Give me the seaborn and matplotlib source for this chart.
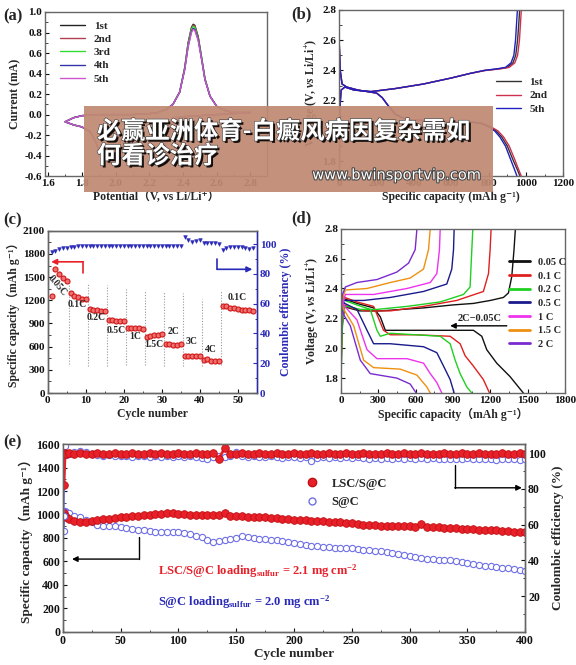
import numpy as np
import pandas as pd
import matplotlib.pyplot as plt
import matplotlib.patheffects as pe
from matplotlib.patches import Rectangle
from matplotlib.ticker import AutoMinorLocator, MultipleLocator
from matplotlib.lines import Line2D
import seaborn as sns

# ---------------- data ----------------
# (a) cyclic voltammetry, cathodic scan then anodic scan
cv_potential = [2.80, 2.70, 2.60, 2.50, 2.40, 2.36, 2.34, 2.32, 2.30, 2.28,
                2.26, 2.24, 2.20, 2.15, 2.10, 2.05, 2.02, 2.00, 1.98, 1.95,
                1.92, 1.90, 1.88, 1.85, 1.80, 1.75, 1.70,
                1.75, 1.80, 1.90, 2.00, 2.10, 2.20, 2.25, 2.30, 2.34, 2.38,
                2.41, 2.43, 2.45, 2.46, 2.47, 2.49, 2.51, 2.53, 2.56, 2.60,
                2.65, 2.70, 2.80]
cv_cathodic = [0.02, 0.01, 0.00, -0.01, -0.02, -0.03, -0.08, -0.18, -0.28, -0.30,
               -0.25, -0.18, -0.12, -0.10, -0.11, -0.18, -0.30, -0.42, -0.48, -0.46,
               -0.40, -0.35, -0.26, -0.17, -0.12, -0.10, -0.07]
cv_anodic = {
    '1st': [-0.03, -0.01, 0.00, 0.00, 0.00, 0.01, 0.02, 0.05, 0.10, 0.22, 0.46, 0.70,
            0.85, 0.88, 0.87, 0.76, 0.56, 0.35, 0.18, 0.08, 0.04, 0.02, 0.02],
    '2nd': [-0.03, -0.01, 0.00, 0.00, 0.00, 0.01, 0.02, 0.05, 0.10, 0.22, 0.45, 0.69,
            0.84, 0.87, 0.86, 0.75, 0.55, 0.35, 0.18, 0.08, 0.04, 0.02, 0.02],
    '3rd': [-0.03, -0.01, 0.00, 0.00, 0.00, 0.01, 0.02, 0.05, 0.10, 0.22, 0.45, 0.68,
            0.83, 0.86, 0.85, 0.74, 0.55, 0.35, 0.18, 0.08, 0.04, 0.02, 0.02],
    '4th': [-0.03, -0.01, 0.00, 0.00, 0.00, 0.01, 0.02, 0.05, 0.10, 0.22, 0.44, 0.66,
            0.81, 0.84, 0.83, 0.73, 0.54, 0.34, 0.18, 0.08, 0.04, 0.02, 0.02],
    '5th': [-0.03, -0.01, 0.00, 0.00, 0.00, 0.01, 0.02, 0.05, 0.10, 0.22, 0.44, 0.66,
            0.80, 0.83, 0.82, 0.72, 0.54, 0.34, 0.18, 0.08, 0.04, 0.02, 0.02],
}
cv_colors = {'1st': '#222222', '2nd': '#b04050', '3rd': '#33dd33',
             '4th': '#3333aa', '5th': '#cc55cc'}

# (b) charge / discharge profiles
b_dis_cap = {'1st': [0, 5, 15, 40, 100, 200, 230, 260, 300, 350, 400, 500, 600, 700, 760, 800, 840, 870, 900, 930, 955, 968],
             '2nd': [0, 5, 15, 40, 100, 200, 230, 260, 300, 350, 400, 500, 600, 700, 765, 808, 850, 880, 910, 940, 962, 975],
             '5th': [0, 5, 15, 40, 100, 200, 230, 260, 300, 350, 400, 500, 600, 700, 755, 795, 832, 860, 890, 918, 940, 952]}
b_dis_v = [2.58, 2.40, 2.31, 2.29, 2.27, 2.25, 2.22, 2.17, 2.11, 2.08, 2.07,
           2.07, 2.06, 2.06, 2.05, 2.03, 2.00, 1.96, 1.90, 1.81, 1.74, 1.70]
b_chg_cap = {'1st': [0, 3, 10, 30, 80, 170, 300, 450, 600, 700, 780, 850, 900, 930, 945, 955, 962, 966],
             '2nd': [0, 3, 10, 30, 80, 170, 300, 450, 600, 700, 785, 860, 910, 940, 955, 965, 971, 975],
             '5th': [0, 3, 10, 30, 80, 170, 300, 450, 600, 700, 775, 842, 890, 920, 935, 944, 950, 954]}
b_chg_v = [1.72, 2.15, 2.27, 2.29, 2.27, 2.26, 2.28, 2.31, 2.35, 2.38,
           2.40, 2.41, 2.42, 2.45, 2.50, 2.60, 2.72, 2.80]
b_colors = {'1st': '#333333', '2nd': '#d03050', '5th': '#2020c0'}

# (c) rate performance
c_cycles = list(range(1, 55))
c_capacity = [1260, 1600, 1540, 1495, 1450,
              1290, 1260, 1240, 1220, 1215,
              1090, 1080, 1070, 1065, 1060,
              950, 940, 935, 930, 930,
              840, 835, 840, 835, 830,
              730, 735, 745, 755, 770,
              640, 630, 625, 625, 630,
              480, 480, 478, 478, 480,
              430, 435, 420, 410, 410,
              1130, 1120, 1105, 1095, 1085, 1080, 1075, 1070, 1065]
c_ce = [94.5, 95.7, 96.5, 97.2, 97.6, 98.0, 98.4, 98.8, 99.0, 98.8,
        98.6, 99.0, 98.8, 98.6, 99.0, 98.8, 98.6, 99.0, 98.8, 98.6,
        99.0, 98.8, 98.6, 99.0, 98.8, 98.6, 99.0, 98.8, 98.6, 99.0,
        98.8, 98.6, 99.0, 98.8, 98.6, 105.0, 102.5, 101.5, 102.0, 103.0,
        100.5, 100.5, 100.8, 100.5, 100.3, 96.3, 97.5, 97.8, 98.2, 97.8,
        98.0, 97.2, 97.0, 97.2]
rate_labels = ['0.05C', '0.1C', '0.2C', '0.5C', '1C', '1.5C', '2C', '3C', '4C', '0.1C']
rate_label_x = [2.4, 7.7, 12.8, 17.9, 22.9, 27.8, 33.1, 37.9, 42.9, 49.8]
rate_label_y = [1387, 1145, 977, 804, 726, 631, 800, 661, 566, 1232]
sep_cycles = [5.5, 10.5, 15.5, 20.5, 25.5, 30.5, 35.5, 40.5, 45.5]
sep_top = [1426, 1426, 1404, 1340, 1331, 1309, 1288, 1223, 1331]
sep_bottom = [380, 345, 345, 360, 360, 345, 345, 345, 360]

# (d) profiles at different rates
d_rates = ['0.05 C', '0.1 C', '0.2 C', '0.5 C', '1 C', '1.5 C', '2 C']
d_colors = ['#111111', '#e02020', '#20d020', '#1a1a8c', '#ee33ee', '#f09010', '#7a2bd0']
d_chg_cap = [[0, 10, 30, 60, 150, 316, 663, 900, 1064, 1200, 1305, 1345, 1372, 1390, 1401],
             [0, 10, 30, 80, 200, 396, 663, 930, 1144, 1185, 1198, 1206],
             [0, 8, 25, 60, 150, 289, 530, 797, 984, 1037, 1051, 1059],
             [0, 8, 21, 100, 182, 396, 663, 850, 890, 904, 909],
             [0, 8, 35, 150, 262, 530, 717, 770, 791, 797],
             [0, 8, 35, 209, 396, 556, 663, 703, 717],
             [0, 8, 35, 128, 289, 449, 543, 596, 610]]
d_chg_v = [[1.80, 2.15, 2.28, 2.27, 2.25, 2.25, 2.27, 2.29, 2.30, 2.32, 2.34, 2.37, 2.48, 2.66, 2.80],
           [1.85, 2.18, 2.29, 2.27, 2.25, 2.25, 2.28, 2.32, 2.38, 2.50, 2.66, 2.80],
           [1.75, 2.10, 2.28, 2.28, 2.26, 2.26, 2.28, 2.31, 2.36, 2.41, 2.66, 2.80],
           [1.95, 2.25, 2.32, 2.32, 2.32, 2.34, 2.38, 2.43, 2.53, 2.66, 2.80],
           [2.00, 2.28, 2.36, 2.36, 2.36, 2.40, 2.44, 2.50, 2.66, 2.80],
           [2.05, 2.32, 2.39, 2.40, 2.44, 2.47, 2.53, 2.66, 2.80],
           [2.10, 2.35, 2.41, 2.44, 2.46, 2.51, 2.57, 2.66, 2.80]]
d_dis_cap = [[0, 30, 128, 262, 316, 356, 396, 700, 1064, 1131, 1171, 1251, 1358, 1465],
             [0, 30, 128, 262, 342, 396, 600, 877, 957, 997, 1064, 1144, 1193],
             [0, 5, 30, 128, 235, 289, 316, 396, 600, 797, 877, 917, 957, 1011, 1051],
             [0, 30, 128, 209, 262, 396, 663, 770, 824, 877, 909],
             [0, 30, 128, 209, 289, 530, 663, 717, 770, 810],
             [0, 30, 102, 182, 262, 476, 610, 690, 717],
             [0, 25, 75, 155, 235, 449, 556, 604]]
d_dis_v = [[2.36, 2.33, 2.30, 2.27, 2.21, 2.12, 2.12, 2.12, 2.12, 2.08, 1.99, 1.90, 1.81, 1.70],
           [2.36, 2.34, 2.31, 2.28, 2.12, 2.09, 2.09, 2.08, 2.03, 1.95, 1.88, 1.79, 1.70],
           [2.62, 2.35, 2.32, 2.29, 2.26, 2.12, 2.08, 2.10, 2.09, 2.08, 2.03, 1.92, 1.83, 1.74, 1.70],
           [2.33, 2.30, 2.26, 2.12, 2.03, 2.03, 2.01, 1.97, 1.88, 1.79, 1.70],
           [2.32, 2.28, 2.19, 1.99, 1.93, 1.93, 1.90, 1.83, 1.77, 1.70],
           [2.30, 2.25, 2.15, 1.92, 1.87, 1.86, 1.82, 1.74, 1.70],
           [2.28, 2.22, 2.15, 1.92, 1.83, 1.80, 1.76, 1.70]]

# (e) long cycling
e_cycles = [1, 2, 3] + list(range(5, 401, 5))
e_cap_lsc = [1010, 990, 975,
             960, 945, 940, 940, 945, 950, 960, 965, 970, 975,
             980, 985, 990, 995, 1000, 1005, 1008, 1010, 1010, 1008,
             1005, 1000, 998, 995, 995, 995, 995, 1012, 990, 988,
             985, 982, 980, 978, 975, 970, 967, 963, 960, 957,
             954, 950, 947, 945, 943, 940, 937, 933, 930, 925,
             920, 915, 912, 908, 905, 903, 902, 900, 900, 898,
             897, 922, 895, 893, 890, 888, 885, 883, 880, 878,
             875, 872, 870, 867, 864, 860, 857, 854, 851, 848]
e_cap_sc = [860, 1030, 1020,
            1010, 990, 975, 955, 935, 915, 905, 905, 900, 895,
            885, 875, 870, 865, 858, 855, 852, 850, 850, 848,
            840, 830, 820, 805, 780, 770, 775, 785, 790, 800,
            815, 810, 800, 795, 790, 785, 780, 775, 770, 760,
            752, 740, 735, 728, 722, 720, 715, 712, 715, 718,
            710, 700, 695, 690, 685, 678, 670, 662, 655, 645,
            635, 625, 620, 618, 615, 612, 608, 600, 592, 585,
            578, 570, 565, 560, 555, 548, 540, 532, 525, 518]
e_ce_lsc = [82.0, 100.2, 99.8,
            99.9, 99.7, 100.0, 99.8, 99.6, 99.9, 99.8, 99.7, 100.0, 99.8,
            99.7, 99.9, 99.8, 99.6, 99.9, 99.8, 100.0, 99.7, 99.8, 99.9,
            99.8, 99.6, 99.9, 99.8, 99.7, 99.9, 97.0, 102.8, 99.8, 99.7,
            99.9, 99.8, 99.6, 99.9, 99.8, 99.7, 100.0, 99.8, 99.6, 99.9,
            99.8, 99.7, 99.9, 99.8, 99.6, 99.9, 99.8, 99.7, 99.9, 99.8,
            99.7, 99.9, 99.8, 99.6, 99.8, 99.9, 99.7, 99.8, 99.9, 99.7,
            99.8, 99.9, 99.7, 99.8, 99.6, 99.9, 99.8, 99.7, 99.9, 99.8,
            99.7, 99.9, 99.8, 99.6, 99.8, 99.9, 99.7, 99.8, 99.9, 99.8]
e_ce_sc = [65.0, 104.0, 99.0,
           99.5, 100.5, 101.0, 100.5, 99.5, 99.0, 98.5, 99.0, 98.5, 98.5,
           98.5, 98.0, 98.5, 98.5, 98.0, 98.5, 98.0, 98.5, 98.0, 98.5,
           98.0, 98.5, 98.0, 97.5, 96.5, 98.0, 98.5, 98.0, 98.5, 100.5,
           98.5, 98.0, 98.5, 98.0, 98.0, 98.5, 98.0, 97.5, 98.0, 98.0,
           97.5, 98.0, 95.5, 97.5, 98.0, 97.5, 98.0, 97.5, 98.0, 97.5,
           98.0, 97.5, 97.0, 97.5, 97.0, 97.5, 97.0, 97.5, 97.0, 97.5,
           97.0, 97.5, 97.0, 97.5, 97.0, 97.0, 96.5, 97.0, 97.0, 97.5,
           97.0, 96.5, 97.0, 96.5, 96.0, 96.5, 97.0, 96.5, 96.0, 96.5]

# ---------------- style ----------------
sns.set_style('ticks')
plt.rcParams['font.family'] = ['Liberation Serif', 'Noto Sans CJK SC', 'DejaVu Sans']
plt.rcParams['font.weight'] = 'bold'
plt.rcParams['axes.labelweight'] = 'bold'
plt.rcParams['mathtext.fontset'] = 'custom'
plt.rcParams['mathtext.rm'] = 'Liberation Serif:bold'
plt.rcParams['mathtext.bf'] = 'Liberation Serif:bold'
plt.rcParams['mathtext.it'] = 'Liberation Serif:italic:bold'
plt.rcParams['axes.unicode_minus'] = False

RED = '#e8202a'
BLUE = '#2a2ab8'
LBLUE = '#6f6fe6'


def style(ax, fs=8):
    for s in ax.spines.values():
        s.set_color('#666666')
        s.set_linewidth(1.0)
    ax.tick_params(direction='in', length=3, width=0.8, labelsize=fs, pad=2, colors='#111111')
    ax.tick_params(which='minor', direction='in', length=1.8, width=0.6)
    ax.xaxis.set_minor_locator(AutoMinorLocator(2))
    ax.yaxis.set_minor_locator(AutoMinorLocator(2))


fig = plt.figure(figsize=(5.76, 6.65), dpi=100)
ax_a = fig.add_axes([0.078, 0.735, 0.386, 0.247])
ax_b = fig.add_axes([0.589, 0.735, 0.389, 0.250])
ax_c = fig.add_axes([0.083, 0.409, 0.363, 0.244])
ax_d = fig.add_axes([0.592, 0.409, 0.389, 0.247])
ax_e = fig.add_axes([0.109, 0.050, 0.803, 0.282])

# ---------------- (a) ----------------
for name, anodic in cv_anodic.items():
    sns.lineplot(x=cv_potential, y=cv_cathodic + anodic, sort=False, estimator=None,
                 color=cv_colors[name], lw=1.0, label=name, ax=ax_a)
ax_a.set_xlim(1.58, 2.9)
ax_a.set_ylim(-0.6, 1.0)
ax_a.xaxis.set_major_locator(MultipleLocator(0.2))
ax_a.yaxis.set_major_locator(MultipleLocator(0.2))
ax_a.yaxis.set_major_formatter(plt.FormatStrFormatter('%.1f'))
ax_a.xaxis.set_major_formatter(plt.FormatStrFormatter('%.1f'))
style(ax_a)
ax_a.set_xlabel('Potential（V, vs Li/Li⁺）', fontsize=8.5, labelpad=2)
ax_a.set_ylabel('Current (mA)', fontsize=8.5, labelpad=2)
ax_a.legend(loc='upper left', bbox_to_anchor=(0.05, 0.97), frameon=False, fontsize=8,
            handlelength=2.2, labelspacing=0.3, borderaxespad=0)

# ---------------- (b) ----------------
for name in ['1st', '2nd', '5th']:
    sns.lineplot(x=b_dis_cap[name], y=b_dis_v, sort=False, estimator=None,
                 color=b_colors[name], lw=1.0, ax=ax_b)
    sns.lineplot(x=b_chg_cap[name], y=b_chg_v, sort=False, estimator=None,
                 color=b_colors[name], lw=1.0, label=name, ax=ax_b)
ax_b.set_xlim(0, 1200)
ax_b.set_ylim(1.7, 2.8)
ax_b.xaxis.set_major_locator(MultipleLocator(200))
ax_b.yaxis.set_major_locator(MultipleLocator(0.2))
ax_b.yaxis.set_major_formatter(plt.FormatStrFormatter('%.1f'))
style(ax_b)
ax_b.set_xlabel('Specific capacity (mAh g⁻¹)', fontsize=8.5, labelpad=2)
ax_b.set_ylabel('Voltage (V, $\\mathit{vs}$ Li/Li$^{+}$)', fontsize=8.5, labelpad=2)
ax_b.legend(loc='upper left', bbox_to_anchor=(0.68, 0.62), frameon=False, fontsize=8,
            handlelength=2.2, labelspacing=0.3, borderaxespad=0)

# ---------------- (c) ----------------
ax_c.vlines(sep_cycles, sep_bottom, sep_top, colors='#999999', linestyles=(0, (1, 1.5)), lw=0.8)
sns.scatterplot(x=c_cycles, y=c_capacity, marker='o', s=13, color='#f07070',
                edgecolor='#d01818', linewidth=0.8, ax=ax_c, zorder=3)
for t, x, y in zip(rate_labels, rate_label_x, rate_label_y):
    ax_c.text(x, y, t, fontsize=7, ha='center', va='center',
              rotation=-50 if t == '0.05C' and x < 5 else 0)
ax_c.annotate('', xy=(0.9, 1698), xytext=(9.3, 1698),
              arrowprops=dict(arrowstyle='-|>', color=RED, lw=1.2, mutation_scale=8,
                              shrinkA=0, shrinkB=0))
ax_c.plot([9.3, 9.3], [1556, 1698], color=RED, lw=1.2)
ax_c.set_xlim(0, 55)
ax_c.set_ylim(0, 2100)
ax_c.xaxis.set_major_locator(MultipleLocator(10))
ax_c.yaxis.set_major_locator(MultipleLocator(300))
style(ax_c)
ax_c.set_xlabel('Cycle number', fontsize=8.5, labelpad=2)
ax_c.set_ylabel('Specific capacity（mAh g⁻¹）', fontsize=8.5, labelpad=2)

ax_c2 = ax_c.twinx()
sns.scatterplot(x=c_cycles, y=c_ce, marker='v', s=7, color=BLUE, edgecolor=BLUE,
                linewidth=0.4, ax=ax_c2)
ax_c2.annotate('', xy=(53.8, 83.1), xytext=(44.5, 83.1),
               arrowprops=dict(arrowstyle='-|>', color=BLUE, lw=1.2, mutation_scale=8,
                               shrinkA=0, shrinkB=0))
ax_c2.plot([44.5, 44.5], [83.1, 89.9], color=BLUE, lw=1.2)
ax_c2.set_ylim(0, 109)
ax_c2.yaxis.set_major_locator(MultipleLocator(20))
style(ax_c2)
ax_c2.spines['right'].set_color(BLUE)
ax_c2.tick_params(axis='y', colors=BLUE)
ax_c2.set_ylabel('Coulombic efficiency (%)', fontsize=8.5, color=BLUE, labelpad=3)

# ---------------- (d) ----------------
for i, rate in enumerate(d_rates):
    sns.lineplot(x=d_dis_cap[i], y=d_dis_v[i], sort=False, estimator=None,
                 color=d_colors[i], lw=1.0, ax=ax_d)
    sns.lineplot(x=d_chg_cap[i], y=d_chg_v[i], sort=False, estimator=None,
                 color=d_colors[i], lw=1.0, label=rate, ax=ax_d)
ax_d.annotate('', xy=(877, 2.15), xytext=(1332, 2.15),
              arrowprops=dict(arrowstyle='-|>', color='black', lw=1.0, mutation_scale=8,
                              shrinkA=0, shrinkB=0))
ax_d.text(1117, 2.20, '2C−0.05C', fontsize=7.5, ha='center', va='center')
ax_d.set_xlim(0, 1800)
ax_d.set_ylim(1.7, 2.8)
ax_d.xaxis.set_major_locator(MultipleLocator(300))
ax_d.yaxis.set_major_locator(MultipleLocator(0.2))
ax_d.yaxis.set_major_formatter(plt.FormatStrFormatter('%.1f'))
style(ax_d)
ax_d.set_xlabel('Specific capacity（mAh g⁻¹）', fontsize=8.5, labelpad=2)
ax_d.set_ylabel('Voltage (V, $\\mathit{vs}$ Li/Li$^{+}$)', fontsize=8.5, labelpad=2)
leg = ax_d.legend(loc='upper left', bbox_to_anchor=(0.73, 0.85), frameon=False, fontsize=7.5,
                  handlelength=2.0, labelspacing=0.42, borderaxespad=0)
for h in leg.get_lines():
    h.set_linewidth(2.0)

# ---------------- (e) ----------------
sns.lineplot(x=e_cycles, y=e_cap_sc, color=LBLUE, lw=0.8, marker='o', markersize=4.5,
             markerfacecolor='white', markeredgecolor=LBLUE, markeredgewidth=0.8, ax=ax_e)
sns.lineplot(x=e_cycles, y=e_cap_lsc, color=RED, lw=2.0, marker='o', markersize=5.5,
             markerfacecolor=RED, markeredgecolor='#c01010', markeredgewidth=0.6, ax=ax_e)
ax_e.annotate('', xy=(8, 620), xytext=(65.5, 620),
              arrowprops=dict(arrowstyle='-|>', color='black', lw=1.0, mutation_scale=8,
                              shrinkA=0, shrinkB=0))
ax_e.plot([65.5, 65.5], [620, 810], color='black', lw=1.0)
ax_e.text(82, 515, 'LSC/S@C loading$_{\\mathrm{sulfur}}$ = 2.1 mg cm$^{-2}$', color=RED,
          fontsize=9, va='center')
ax_e.text(82, 255, 'S@C loading$_{\\mathrm{sulfur}}$ = 2.0 mg cm$^{-2}$', color=BLUE,
          fontsize=9, va='center')
handles = [Line2D([], [], ls='none', marker='o', markersize=6, color=RED, markeredgecolor='#c01010'),
           Line2D([], [], ls='none', marker='o', markersize=5, markerfacecolor='white',
                  markeredgecolor=LBLUE)]
ax_e.legend(handles, ['LSC/S@C', 'S@C'], loc='center left', bbox_to_anchor=(0.50, 0.74),
            frameon=False, fontsize=9, handletextpad=0.6, labelspacing=0.5, borderaxespad=0)
ax_e.set_xlim(0, 400)
ax_e.set_ylim(0, 1600)
ax_e.xaxis.set_major_locator(MultipleLocator(50))
ax_e.yaxis.set_major_locator(MultipleLocator(200))
style(ax_e, fs=8.5)
ax_e.set_xlabel('Cycle number', fontsize=9.5, labelpad=1)
ax_e.set_ylabel('Specific capacity（mAh g⁻¹）', fontsize=9.5, labelpad=2)

ax_e2 = ax_e.twinx()
sns.lineplot(x=e_cycles, y=e_ce_sc, color=LBLUE, lw=0.8, marker='o', markersize=4.5,
             markerfacecolor='white', markeredgecolor=LBLUE, markeredgewidth=0.8, ax=ax_e2)
sns.lineplot(x=e_cycles, y=e_ce_lsc, color=RED, lw=2.0, marker='o', markersize=5.5,
             markerfacecolor=RED, markeredgecolor='#c01010', markeredgewidth=0.6, ax=ax_e2)
ax_e2.annotate('', xy=(397, 80.6), xytext=(339, 80.6),
               arrowprops=dict(arrowstyle='-|>', color='black', lw=1.0, mutation_scale=8,
                               shrinkA=0, shrinkB=0))
ax_e2.plot([339, 339], [80.6, 93.5], color='black', lw=1.0)
ax_e2.set_ylim(0, 105)
ax_e2.set_yticks([20, 40, 60, 80, 100])
style(ax_e2, fs=8.5)
ax_e2.set_ylabel('Coulombic efficiency (%)', fontsize=9.5, labelpad=4)

# panel letters
for lbl, x, y in [('(a)', 0.005, 0.975), ('(b)', 0.505, 0.978), ('(c)', 0.005, 0.668),
                  ('(d)', 0.505, 0.671), ('(e)', 0.005, 0.335)]:
    fig.text(x, y, lbl, fontsize=12, ha='left', va='center')

# overlay banner
fig.add_artist(Rectangle((0.146, 0.711), 0.710, 0.130, transform=fig.transFigure,
                         facecolor='#c08a72', edgecolor='none', alpha=0.93, zorder=10))
shadow = [pe.SimplePatchShadow(offset=(1.5, -1.5), shadow_rgbFace='black', alpha=0.9),
          pe.Stroke(linewidth=0.8, foreground='#333333'), pe.Normal()]
fig.text(0.168, 0.802, '必赢亚洲体育-白癜风病因复杂需如', fontsize=17.5, color='white',
         family=['Noto Sans CJK SC'], weight='bold', va='center', zorder=11, path_effects=shadow)
fig.text(0.168, 0.765, '何看诊治疗', fontsize=17.5, color='white',
         family=['Noto Sans CJK SC'], weight='bold', va='center', zorder=11, path_effects=shadow)
fig.text(0.542, 0.737, 'www.bwinsportvip.com', fontsize=10.5, color='white',
         family=['DejaVu Sans'], weight='normal', va='center', zorder=11,
         path_effects=[pe.Stroke(linewidth=1.5, foreground='#444444'), pe.Normal()])

fig.savefig('out.png', dpi=100)
